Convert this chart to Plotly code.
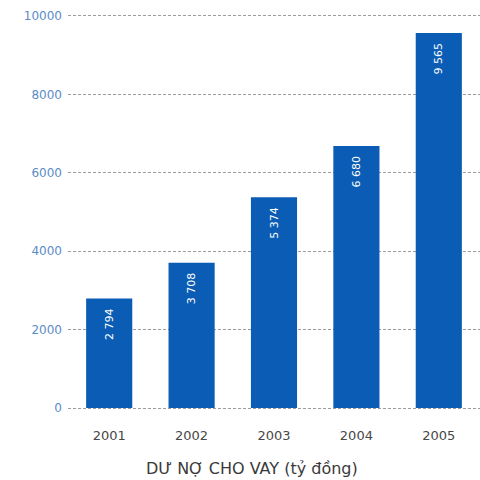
import plotly.graph_objects as go

years = ["2001", "2002", "2003", "2004", "2005"]
loans = [2794, 3708, 5374, 6680, 9565]
loan_labels = ["2 794", "3 708", "5 374", "6 680", "9 565"]
y_ticks = [0, 2000, 4000, 6000, 8000, 10000]
title_text = "DƯ NỢ CHO VAY (tỷ đồng)"

BAR_BLUE = "#0b5cb4"

# a little non-breaking padding keeps the value clear of the bar's top edge
padded_labels = [lab + "\u00a0\u00a0" for lab in loan_labels]

fig = go.Figure(
    go.Bar(
        x=years,
        y=loans,
        text=padded_labels,
        textposition="inside",
        insidetextanchor="end",
        textangle=-90,
        textfont=dict(color="white", size=11, family="DejaVu Sans"),
        marker=dict(color=BAR_BLUE, line=dict(width=0)),
        width=0.56,
        cliponaxis=False,
    )
)

fig.update_layout(
    width=480,
    height=480,
    margin=dict(l=68, r=0, t=12, b=68),
    paper_bgcolor="white",
    plot_bgcolor="white",
    showlegend=False,
    font=dict(family="DejaVu Sans"),
    uniformtext=dict(minsize=8, mode="show"),
)

fig.update_xaxes(
    type="category",
    range=[-0.5, 4.5],
    showgrid=False,
    showline=False,
    zeroline=False,
    ticks="",
    ticklabelstandoff=14,
    tickfont=dict(size=13, color="#474747", family="DejaVu Sans"),
)

# small padding above 10000 and below 0 so the edge gridlines are drawn
fig.update_yaxes(
    range=[-100, 10100],
    tickvals=y_ticks,
    ticktext=[str(v) for v in y_ticks],
    showgrid=True,
    gridcolor="#9c9c9c",
    gridwidth=1,
    griddash="3px,2px",
    zeroline=False,
    showline=False,
    ticks="",
    ticklabelstandoff=5,
    tickfont=dict(size=12, color="#5b8cc6", family="DejaVu Sans"),
)

fig.add_annotation(
    text=title_text,
    xref="paper",
    yref="paper",
    x=0.446,
    y=-0.142,
    xanchor="center",
    yanchor="middle",
    showarrow=False,
    font=dict(size=16, color="#3a3a3a", family="DejaVu Sans"),
)

fig.write_html("out.html")
